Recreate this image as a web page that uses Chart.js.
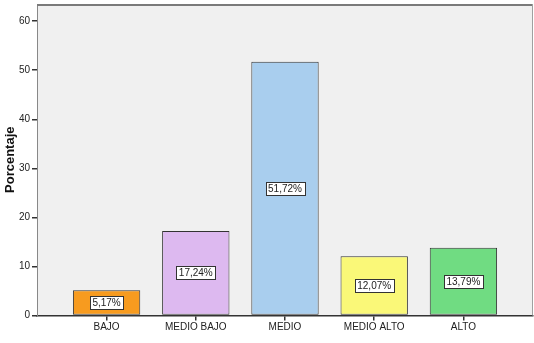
<!DOCTYPE html>
<html>
<head>
<meta charset="utf-8">
<script src="https://cdn.jsdelivr.net/npm/chart.js@4"></script>
<style>
html,body{margin:0;padding:0;background:#fff;}
#wrap{width:534px;height:343px;}
</style>
</head>
<body>
<div id="wrap"><canvas id="c" width="534" height="343"></canvas></div>
<script>
const categories = ['BAJO', 'MEDIO BAJO', 'MEDIO', 'MEDIO ALTO', 'ALTO'];
const values = [5.17, 17.24, 51.72, 12.07, 13.79];
const valueLabels = ['5,17%', '17,24%', '51,72%', '12,07%', '13,79%'];
const yTicks = [0, 10, 20, 30, 40, 50, 60];
const barColors = ['#F79B1F', '#DDB9F0', '#A9CEEE', '#FAF878', '#70DC82'];

const FONT = 'Arial, "Liberation Sans", sans-serif';

const framePlugin = {
  id: 'frame',
  beforeDraw(chart) {
    const {ctx, chartArea: a} = chart;
    ctx.save();
    ctx.fillStyle = '#F0F0F0';
    ctx.fillRect(a.left, a.top, a.right - a.left, a.bottom - a.top);
    ctx.restore();
  },
  afterDraw(chart) {
    const {ctx, chartArea: a} = chart;
    ctx.save();
    ctx.strokeStyle = '#7A7A7A';
    ctx.lineWidth = 2;
    ctx.beginPath();
    ctx.moveTo(a.left, a.top + 1);
    ctx.lineTo(a.right, a.top + 1);
    ctx.stroke();
    ctx.lineWidth = 1;
    ctx.strokeStyle = '#A0A0A0';
    ctx.beginPath();
    ctx.moveTo(a.right - 0.5, a.top);
    ctx.lineTo(a.right - 0.5, a.bottom);
    ctx.stroke();
    ctx.restore();
  }
};

const labelPlugin = {
  id: 'boxLabels',
  afterDatasetsDraw(chart) {
    const {ctx} = chart;
    const meta = chart.getDatasetMeta(0);
    ctx.save();
    ctx.font = '10px ' + FONT;
    ctx.textAlign = 'center';
    ctx.textBaseline = 'middle';
    meta.data.forEach((bar, i) => {
      const cx = bar.x;
      const cy = (bar.y + bar.base) / 2;
      const txt = valueLabels[i];
      const w = Math.round(ctx.measureText(txt).width) + 5;
      const h = 13;
      const x0 = Math.round(cx - w / 2) + 0.5;
      const y0 = Math.round(cy - h / 2) + 0.5;
      ctx.fillStyle = '#FFFFFF';
      ctx.fillRect(x0, y0, w, h);
      ctx.strokeStyle = '#333333';
      ctx.lineWidth = 1;
      ctx.strokeRect(x0, y0, w, h);
      ctx.fillStyle = '#222222';
      ctx.fillText(txt, cx, cy + 0.5);
    });
    ctx.restore();
  }
};

new Chart(document.getElementById('c'), {
  type: 'bar',
  data: {
    datasets: [{
      data: values.map((v, i) => ({x: i, y: v})),
      backgroundColor: barColors,
      borderColor: '#333333',
      borderWidth: 1,
      borderSkipped: false,
      categoryPercentage: 1,
      barPercentage: 0.755
    }]
  },
  options: {
    responsive: false,
    animation: false,
    layout: {padding: {top: 4, right: 1, left: 0, bottom: 0}},
    plugins: {legend: {display: false}, tooltip: {enabled: false}},
    scales: {
      x: {
        type: 'linear',
        offset: false,
        min: -0.78,
        max: 4.78,
        afterBuildTicks(scale) { scale.ticks = categories.map((c, i) => ({value: i})); },
        afterFit(scale) { scale.height = 27.5; },
        ticks: {
          autoSkip: false,
          maxRotation: 0,
          color: '#222',
          font: {size: 10, family: FONT},
          padding: 1,
          callback: (v) => categories[v]
        },
        grid: {offset: false, drawOnChartArea: false, drawTicks: true, tickLength: 5, color: '#333', lineWidth: 1.5},
        border: {display: true, color: '#333', width: 1.5}
      },
      y: {
        min: 0,
        max: 63.5,
        afterBuildTicks(scale) { scale.ticks = yTicks.map(v => ({value: v})); },
        afterFit(scale) { scale.width = 37; scale.paddingTop = 0; scale.paddingBottom = 0; },
        ticks: {
          color: '#222',
          font: {size: 10, family: FONT},
          padding: 2
        },
        grid: {drawOnChartArea: false, drawTicks: true, tickLength: 5, color: '#333', lineWidth: 1.5},
        border: {display: true, color: '#888', width: 1},
        title: {
          display: true,
          text: 'Porcentaje',
          color: '#111',
          font: {size: 13, weight: 'bold', family: FONT},
          padding: {top: 3, bottom: 0}
        }
      }
    }
  },
  plugins: [framePlugin, labelPlugin]
});
</script>
</body>
</html>
